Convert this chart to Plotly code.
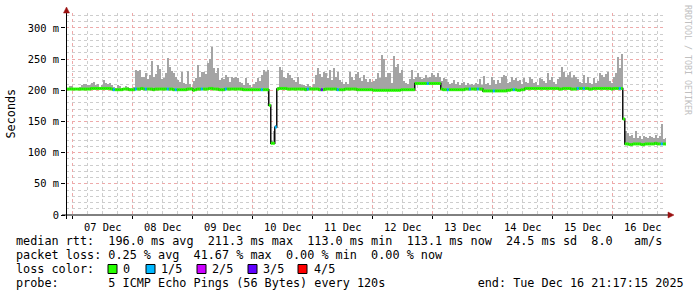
import pandas as pd
import plotly.graph_objects as go

# ---------------- data ----------------
start_time = "2025-12-06 21:36:00"      # first consolidation step
step_minutes = 48
range_start = "2025-12-06 21:17:15"
range_end = "2025-12-16 21:17:15"

# top of the smoke (max ping, ms) per step
smoke_max = (
    [203, 207, 207]
    + [204, 203, 204, 205, 209, 210, 210, 208, 209, 211, 213, 209, 210, 206, 208, 217, 212, 210, 211, 209, 205, 204, 208, 207, 203, 204, 207, 206, 203, 203]
    + [205, 232, 231, 232, 221, 222, 228, 218, 224, 247, 222, 226, 240, 234, 218, 220, 228, 252, 238, 231, 228, 222, 216, 214, 230, 212, 210, 231, 210, 206]
    + [215, 220, 241, 222, 230, 229, 226, 244, 250, 270, 236, 228, 236, 216, 220, 218, 224, 221, 213, 222, 219, 221, 219, 214, 212, 209, 219, 212, 208, 206]
    + [210, 213, 220, 215, 225, 232, 230, 232, 176, 118, 135, 144, 205, 238, 232, 222, 220, 228, 224, 220, 216, 213, 221, 210, 208, 209, 207, 210, 207, 205]
    + [210, 224, 235, 226, 222, 229, 228, 220, 233, 216, 235, 222, 230, 216, 213, 210, 214, 210, 230, 222, 216, 226, 230, 220, 215, 225, 218, 213, 218, 214]
    + [215, 218, 227, 220, 256, 250, 222, 228, 227, 212, 255, 238, 243, 228, 232, 215, 212, 210, 218, 233, 218, 221, 227, 222, 218, 220, 224, 219, 221, 227]
    + [224, 222, 227, 221, 215, 220, 218, 214, 210, 212, 217, 210, 213, 209, 211, 213, 209, 211, 208, 210, 209, 212, 210, 218, 209, 223, 210, 212, 209, 222]
    + [216, 210, 217, 212, 222, 224, 223, 212, 213, 221, 217, 219, 215, 216, 210, 219, 213, 211, 221, 218, 212, 214, 209, 219, 218, 215, 212, 228, 216, 222]
    + [213, 210, 218, 222, 238, 230, 222, 224, 230, 220, 225, 222, 218, 214, 212, 224, 212, 222, 211, 210, 220, 212, 215, 228, 225, 222, 226, 230, 215, 212]
    + [222, 227, 253, 235, 258, 154, 135, 132, 126, 128, 123, 134, 124, 127, 122, 127, 125, 124, 126, 125, 123, 128, 124, 126, 146, 122, 124]
)

# median rtt (ms) per step
median_rtt = (
    [202, 202, 202]
    + [202, 202, 202, 202, 202, 202, 202, 202, 202, 203, 203, 203, 203, 203, 203, 203, 203, 203, 203, 202, 201, 201, 201, 201, 201, 202, 202, 202, 201, 201]
    + [201, 202, 202, 202, 203, 202, 202, 202, 202, 202, 201, 202, 202, 202, 202, 202, 202, 202, 202, 202, 201, 201, 201, 201, 201, 201, 201, 202, 202, 202]
    + [200, 201, 202, 202, 202, 202, 202, 202, 203, 203, 202, 202, 202, 201, 201, 201, 202, 202, 202, 202, 202, 202, 202, 202, 202, 201, 201, 201, 201, 201]
    + [201, 201, 201, 201, 201, 201, 201, 201, 176, 115, 115, 141, 202, 203, 203, 203, 203, 202, 202, 202, 202, 202, 202, 202, 202, 202, 201, 202, 202, 202]
    + [202, 202, 202, 201, 201, 201, 202, 202, 202, 202, 202, 202, 201, 201, 201, 201, 202, 202, 202, 202, 202, 202, 201, 201, 201, 201, 201, 201, 201, 201]
    + [200, 200, 200, 200, 200, 200, 200, 200, 200, 200, 200, 200, 200, 200, 201, 201, 201, 201, 201, 201, 201, 211, 211, 211, 211, 211, 211, 211, 211, 211]
    + [211, 211, 211, 211, 202, 201, 201, 201, 201, 201, 201, 201, 201, 201, 201, 201, 202, 202, 202, 202, 202, 202, 202, 202, 202, 199, 199, 199, 199, 199]
    + [199, 199, 199, 199, 199, 199, 199, 200, 200, 201, 201, 201, 200, 200, 201, 201, 203, 203, 203, 203, 203, 203, 203, 203, 203, 203, 203, 203, 203, 203]
    + [203, 203, 203, 202, 202, 203, 203, 203, 203, 202, 202, 202, 203, 203, 203, 203, 203, 203, 202, 202, 203, 203, 203, 203, 203, 203, 203, 203, 203, 202]
    + [203, 203, 203, 203, 203, 154, 114, 114, 113, 113, 114, 114, 114, 114, 113, 113, 114, 114, 114, 114, 114, 115, 114, 114, 114, 114, 114]
)

# steps with packet loss (index into the arrays above) and their loss level (n of 5)
loss_index = [23, 34, 39, 50, 54, 67, 79, 97, 104, 120, 127, 135, 180, 190, 201, 205, 213, 223, 255, 258, 276, 297]
loss_level = [1, 1, 1, 1, 1, 1, 1, 1, 1, 1, 3, 1, 1, 1, 1, 1, 1, 1, 1, 1, 1, 1]

loss_colors = ["#26ff00", "#00b8ff", "#cc00ff", "#6000ff", "#ff0000"]
loss_labels = ["0", "1/5", "2/5", "3/5", "4/5"]

y_tick_vals = [0, 50, 100, 150, 200, 250, 300]
y_tick_text = ["0", "50 m", "100 m", "150 m", "200 m", "250 m", "300 m"]

legend_line1 = "median rtt:  196.0 ms avg  211.3 ms max  113.0 ms min  113.1 ms now  24.5 ms sd  8.0   am/s"
legend_line2 = "packet loss: 0.25 % avg  41.67 % max  0.00 % min  0.00 % now"
legend_line3 = "loss color:"
legend_line4 = "probe:       5 ICMP Echo Pings (56 Bytes) every 120s             end: Tue Dec 16 21:17:15 2025"
y_title = "Seconds"
watermark = "RRDTOOL / TOBI OETIKER"

# ---------------- geometry helpers ----------------
W, H = 697, 297
PL, PR, PT, PB = 66, 666, 13, 215   # plot area in pixels


def px(x):
    return (x - PL) / (PR - PL)


def py(y):
    return (PB - y) / (PB - PT)


MONO = "DejaVu Sans Mono"

step = pd.Timedelta(minutes=step_minutes)
times = pd.date_range(start_time, periods=len(median_rtt), freq=f"{step_minutes}min")
centers = times + step / 2

loss = [0] * len(median_rtt)
for i, lv in zip(loss_index, loss_level):
    loss[i] = lv

fig = go.Figure()

# smoke
fig.add_trace(go.Bar(
    x=centers,
    y=[max(s - m, 0) for s, m in zip(smoke_max, median_rtt)],
    base=median_rtt,
    width=step.total_seconds() * 1000,
    marker=dict(color="#a4a4a4", line=dict(width=0)),
    hoverinfo="skip",
))

# median as thin dark step line
fig.add_trace(go.Scatter(
    x=list(times) + [times[-1] + step],
    y=median_rtt + [median_rtt[-1]],
    mode="lines",
    line=dict(color="#000000", width=1.4, shape="hv"),
    hoverinfo="skip",
))

# loss-colored median segments
for lv, col in enumerate(loss_colors):
    xs, ys = [], []
    for i, m in enumerate(median_rtt):
        if loss[i] == lv:
            xs += [times[i], times[i] + step, None]
            ys += [m, m, None]
    if xs:
        fig.add_trace(go.Scatter(x=xs, y=ys, mode="lines",
                                 line=dict(color=col, width=3),
                                 hoverinfo="skip"))

major_grid = "#eeaaaa"
minor_grid = "#cdcdcd"

fig.update_layout(
    width=W, height=H, autosize=False,
    margin=dict(l=PL, r=W - PR, t=PT, b=H - PB),
    paper_bgcolor="white", plot_bgcolor="white",
    showlegend=False, bargap=0,
    font=dict(family=MONO, color="black"),
    xaxis=dict(
        type="date", range=[range_start, range_end],
        tick0="2025-12-07", dtick=86400000,
        ticklabelmode="period", tickformat="%d %b",
        ticks="outside", ticklen=3, tickcolor="black",
        tickfont=dict(family=MONO, size=10.4, color="black"),
        showgrid=True, gridcolor=major_grid, griddash="dot", gridwidth=1,
        minor=dict(dtick=6 * 3600 * 1000, tick0="2025-12-07", showgrid=True,
                   gridcolor=minor_grid, griddash="dot", gridwidth=1, ticks=""),
        zeroline=False, showline=False, fixedrange=True,
    ),
    yaxis=dict(
        range=[0, 324], tickmode="array",
        tickvals=y_tick_vals, ticktext=y_tick_text,
        ticks="outside", ticklen=4, tickcolor="black",
        tickfont=dict(family=MONO, size=10.4, color="black"),
        showgrid=True, gridcolor=major_grid, griddash="dot", gridwidth=1,
        minor=dict(dtick=10, tick0=0, showgrid=True,
                   gridcolor=minor_grid, griddash="dot", gridwidth=1, ticks=""),
        zeroline=False, showline=False, fixedrange=True,
    ),
)

shapes = [
    # x axis line
    dict(type="line", xref="paper", yref="paper", x0=px(62), x1=px(670), y0=py(215), y1=py(215),
         line=dict(color="black", width=1)),
    # y axis line
    dict(type="line", xref="paper", yref="paper", x0=px(66.5), x1=px(66.5), y0=py(219), y1=py(11),
         line=dict(color="black", width=1)),
    # arrows
    dict(type="path", xref="paper", yref="paper",
         path=f"M {px(66.5)} {py(7)} L {px(63.5)} {py(13)} L {px(69.5)} {py(13)} Z",
         fillcolor="#9a1010", line=dict(color="#9a1010", width=0.5)),
    dict(type="path", xref="paper", yref="paper",
         path=f"M {px(674)} {py(215)} L {px(668)} {py(212)} L {px(668)} {py(218)} Z",
         fillcolor="#9a1010", line=dict(color="#9a1010", width=0.5)),
]

box_x = [108, 146, 197, 248, 298]
label_x = [122, 160, 211, 262, 313]
for bx, col in zip(box_x, loss_colors):
    shapes.append(dict(type="rect", xref="paper", yref="paper",
                       x0=px(bx), x1=px(bx + 9), y0=py(264.5), y1=py(273.5),
                       fillcolor=col, line=dict(color="black", width=1)))
fig.update_layout(shapes=shapes)


def nb(s):
    return s.replace(" ", "\u00a0")


ann = []
for txt, yy in [(legend_line1, 241), (legend_line2, 255), (legend_line3, 269), (legend_line4, 283)]:
    ann.append(dict(text=nb(txt), xref="paper", yref="paper", x=px(15), y=py(yy),
                    xanchor="left", yanchor="middle", showarrow=False, borderpad=0,
                    font=dict(family=MONO, size=11.8, color="black")))
for lx, lab in zip(label_x, loss_labels):
    ann.append(dict(text=nb(lab), xref="paper", yref="paper", x=px(lx), y=py(269),
                    xanchor="left", yanchor="middle", showarrow=False, borderpad=0,
                    font=dict(family=MONO, size=11.8, color="black")))
ann.append(dict(text=y_title, xref="paper", yref="paper", x=px(10.5), y=py(114),
                xanchor="center", yanchor="middle", textangle=-90, showarrow=False,
                font=dict(family=MONO, size=11.8, color="black")))
ann.append(dict(text=nb(watermark), xref="paper", yref="paper", x=px(688), y=py(60),
                xanchor="center", yanchor="middle", textangle=90, showarrow=False,
                font=dict(family=MONO, size=8.3, color="#c0c0c0")))
fig.update_layout(annotations=ann)

fig.write_html("out.html", config={"displayModeBar": False, "staticPlot": True})
